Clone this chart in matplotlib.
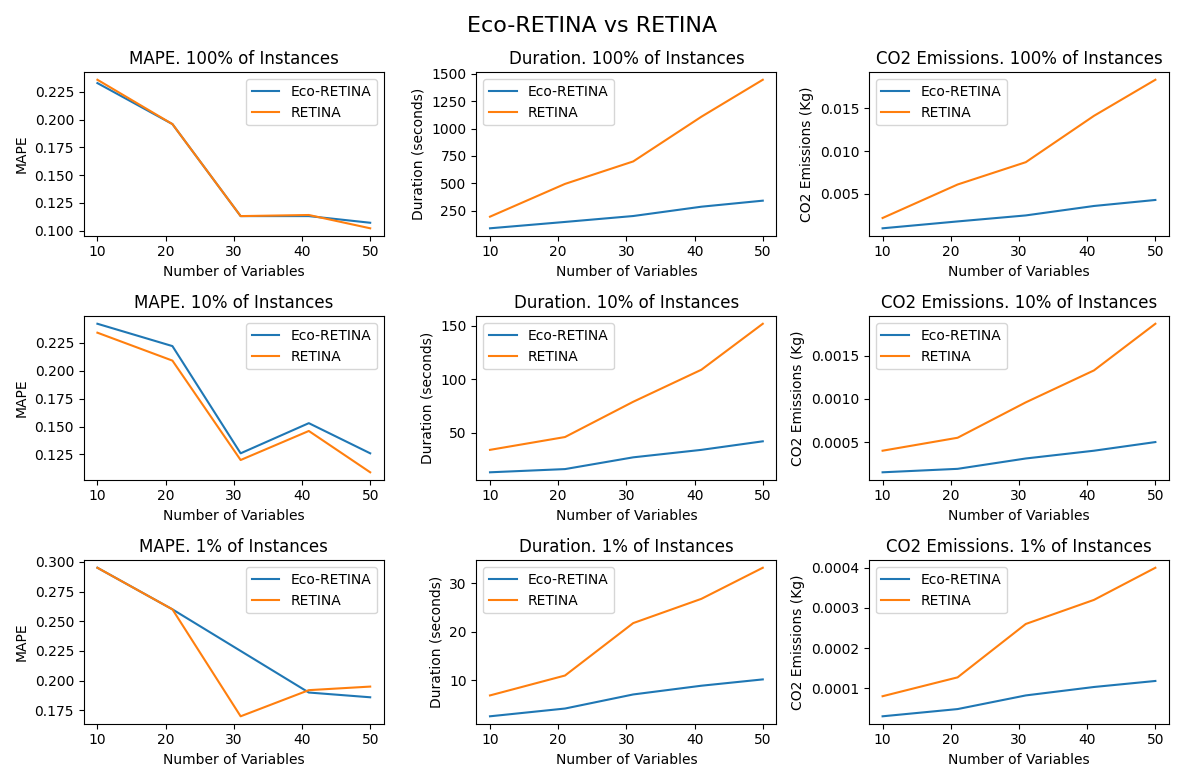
import numpy as np
import matplotlib
matplotlib.use("Agg")
import matplotlib.pyplot as plt
from matplotlib.ticker import MaxNLocator

# number of variables used in each run
n_vars = [10, 21, 31, 41, 50]
pcts = ["100%", "10%", "1%"]

# MAPE
mape_eco = [[0.233, 0.196, 0.113, 0.113, 0.107],
            [0.242, 0.222, 0.126, 0.153, 0.126],
            [0.295, 0.260, 0.225, 0.190, 0.186]]
mape_ret = [[0.236, 0.196, 0.113, 0.114, 0.102],
            [0.234, 0.209, 0.120, 0.146, 0.109],
            [0.295, 0.260, 0.170, 0.192, 0.195]]

# duration in seconds
dur_eco = [[90, 148, 202, 287, 342],
           [13, 16, 27, 34, 42],
           [2.6, 4.2, 7.1, 8.9, 10.2]]
dur_ret = [[196, 495, 700, 1108, 1445],
           [34, 46, 79, 109, 152],
           [6.9, 11.0, 21.8, 26.8, 33.2]]

# CO2 emissions (Kg)
co2_eco = [[0.0010, 0.0018, 0.0025, 0.0036, 0.0043],
           [0.00015, 0.00019, 0.00031, 0.00040, 0.00050],
           [0.000030, 0.000048, 0.000082, 0.000103, 0.000118]]
co2_ret = [[0.0022, 0.0061, 0.0087, 0.0141, 0.0183],
           [0.00040, 0.00055, 0.00096, 0.00133, 0.00187],
           [0.000080, 0.000127, 0.000260, 0.000320, 0.000400]]

metrics = [("MAPE", "MAPE", mape_eco, mape_ret, "upper right"),
           ("Duration", "Duration (seconds)", dur_eco, dur_ret, "upper left"),
           ("CO2 Emissions", "CO2 Emissions (Kg)", co2_eco, co2_ret, "upper left")]

fig, axs = plt.subplots(3, 3, figsize=(11.84, 7.82), dpi=100)
fig.suptitle("Eco-RETINA vs RETINA", fontsize=16)

for i, p in enumerate(pcts):
    for j, (name, ylab, eco, ret, loc) in enumerate(metrics):
        ax = axs[i, j]
        ax.plot(n_vars, eco[i], label="Eco-RETINA")
        ax.plot(n_vars, ret[i], label="RETINA")
        ax.set_title(name + ". " + p + " of Instances")
        ax.set_xlabel("Number of Variables")
        ax.set_ylabel(ylab)
        ax.yaxis.set_major_locator(MaxNLocator(nbins=6, steps=[1, 2, 2.5, 5, 10]))
        ax.legend(loc=loc)

plt.tight_layout()
plt.savefig("out.png")
